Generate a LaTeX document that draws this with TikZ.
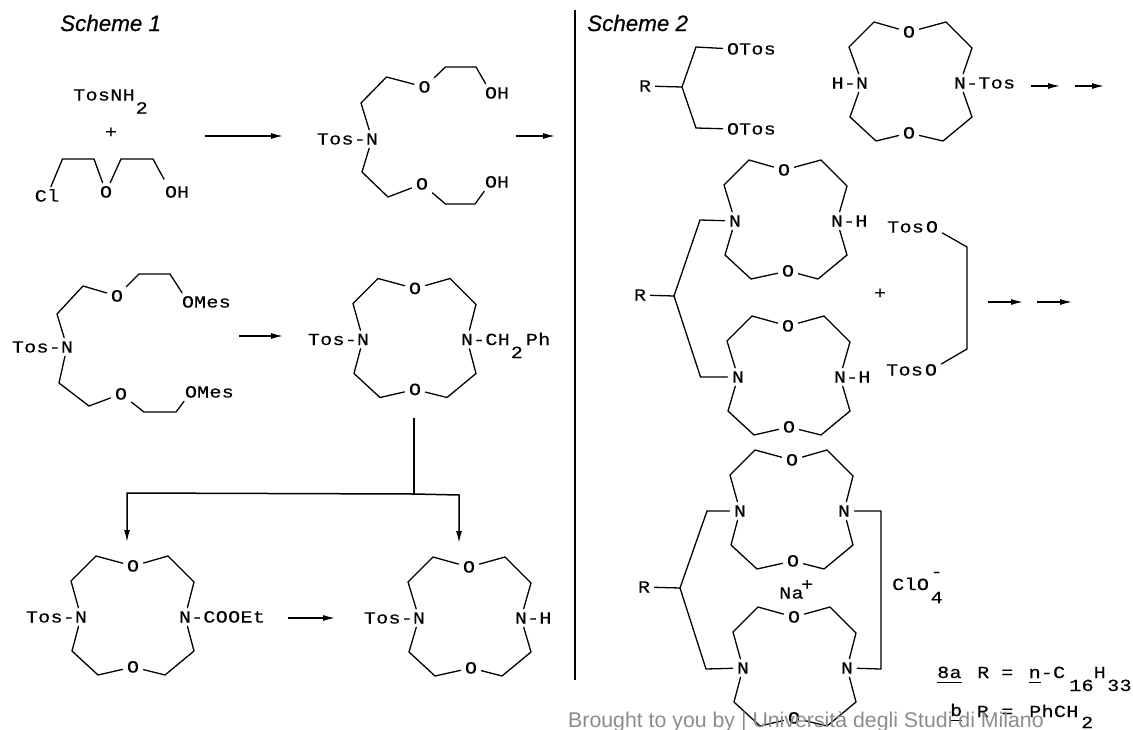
\documentclass[tikz,border=0pt]{standalone}
\usepackage{fontspec}
\usetikzlibrary{arrows.meta}
\setmainfont[LetterSpace=2,FakeStretch=1.18,FakeBold=0.35]{Liberation Mono}
\newfontfamily\sansfnt{Liberation Sans}
\newfontfamily\titlefnt[ItalicFeatures={FakeBold=0.6}]{Liberation Sans}
\tikzset{
  bond/.style={draw=black,line width=1.3pt,line join=miter,line cap=round},
  atom/.style={font=\fontsize{17}{20}\selectfont,text=black,inner xsep=4.2pt,inner ysep=3.6pt,text height=11pt,text depth=0pt},
  lbl/.style={font=\fontsize{17}{20}\selectfont,text=black,inner sep=0pt,anchor=base west},
  arr/.style={draw=black,line width=1.3pt,-{Latex[length=12pt,width=6pt]}},
  treeline/.style={draw=black,line width=1.5pt},
  sep/.style={draw=black,line width=2pt},
  schemetitle/.style={font=\titlefnt\itshape\fontsize{22.4}{26}\selectfont,text=black,inner sep=0pt,anchor=west},
  stamp/.style={font=\sansfnt\fontsize{21.3}{24}\selectfont,text=black!45,inner sep=0pt,anchor=base west}
}
% id, cx, cy, half width N-N, top O dx, bottom O dx, left atom, right atom
\newcommand{\crownring}[8]{%
  \begin{scope}[shift={(#2,#3)}]
    \node[atom] (#1L) at (-#4,0) {#7};
    \node[atom] (#1R) at (#4,0) {#8};
    \node[atom] (#1T) at (#5,-51) {O};
    \node[atom] (#1B) at (#6,50) {O};
    \draw[bond] (#1L) -- (-62,-36) -- (-37,-61) -- (#1T) -- (35,-61) -- (61,-35) -- (#1R);
    \draw[bond] (#1L) -- (-61,34) -- (-35,58) -- (#1B) -- (32,58) -- (61,34) -- (#1R);
  \end{scope}}
\newcommand{\lowtwo}{\hspace{1pt}\raisebox{-13pt}{2}}
\begin{document}
\begin{tikzpicture}[x=1pt,y=-1pt]
\useasboundingbox (0,0) rectangle (1133,729);
\node[schemetitle] (s1) at (60,23) {Scheme 1};
\node[schemetitle] (s2) at (587,23) {Scheme 2};
\coordinate (sepa) at (575,10); \coordinate (sepb) at (575,680);
\draw[sep] (sepa) -- (sepb);

% --- reagents
\node[lbl] (tosnh) at (73,100.5) {TosNH\lowtwo};
\node[atom] (plusa) at (111,132) {+};
\node[atom] (cla) at (47,196) {Cl};
\node[atom] (oa) at (106,192) {O};
\node[atom] (oha) at (171,192) {O\rlap{H}};
\draw[bond] (cla) -- (62.5,159) -- (94,159) -- (oa);
\draw[bond,shorten >=4pt] (oa) -- (121,159) -- (153,159) -- (oha);

% --- diol
\node[atom] (na) at (372,139) {\llap{Tos-}N};
\node[atom] (ob) at (424.5,87) {O};
\node[atom] (ohb) at (491,93) {O\rlap{H}};
\node[atom] (oc) at (422,184) {O};
\node[atom] (ohc) at (491,182) {O\rlap{H}};
\draw[bond] (na) -- (361,103) -- (386.5,77) -- (ob) -- (445.5,67) -- (476,67) -- (ohb);
\draw[bond] (na) -- (362,172) -- (388,197) -- (oc) -- (445.5,204) -- (475,204) -- (ohc);

% --- dimesylate
\node[atom] (nb) at (67,347) {\llap{Tos-}N};
\node[atom] (od) at (117,296) {O};
\node[atom] (ome) at (188,302) {O\rlap{Mes}};
\node[atom] (oe) at (121,394) {O};
\node[atom] (omf) at (191,392) {O\rlap{Mes}};
\draw[bond] (nb) -- (57,314) -- (83,286) -- (od) -- (139,274) -- (170,274) -- (ome);
\draw[bond] (nb) -- (59,383) -- (89,406) -- (oe) -- (144,412) -- (176,412) -- (omf);

% --- scheme 1 rings
\crownring{ra}{415}{339.5}{52}{0}{0}{\llap{Tos-}N}{N\rlap{-CH\lowtwo\hspace{3pt}Ph}}
\crownring{rb}{133}{617}{52}{0}{0}{\llap{Tos-}N}{N\rlap{-COOEt}}
\crownring{rc}{470}{618}{51}{-1}{1}{\llap{Tos-}N}{N\rlap{-H}}

% --- scheme 1 arrows
\coordinate (a1s) at (205,136); \coordinate (a1e) at (283,136);
\coordinate (a2s) at (516,136); \coordinate (a2e) at (555,136);
\coordinate (a3s) at (239,336); \coordinate (a3e) at (283,336);
\coordinate (a4s) at (288,618); \coordinate (a4e) at (335,618);
\draw[arr] (a1s) -- (a1e);
\draw[arr] (a2s) -- (a2e);
\draw[arr] (a3s) -- (a3e);
\draw[arr] (a4s) -- (a4e);
\coordinate (ta) at (414,418); \coordinate (tb) at (414,494);
\coordinate (tl) at (127,493); \coordinate (tr) at (459,495);
\coordinate (tle) at (127,542); \coordinate (tre) at (459,543);
\draw[treeline] (ta) -- (tb);
\draw[arr,treeline] (tb) -- (tl) -- (tle);
\draw[arr,treeline] (tb) -- (tr) -- (tre);

% --- scheme 2, top
\node[atom] (ra1) at (645,86) {R};
\coordinate (ca) at (682,87);
\node[atom] (ot1) at (733,49) {O\rlap{Tos}};
\node[atom] (ot2) at (733,129) {O\rlap{Tos}};
\draw[bond] (ra1) -- (ca);
\draw[bond] (ca) -- (696,47) -- (ot1);
\draw[bond] (ca) -- (696,128) -- (ot2);
\crownring{rd}{911}{83}{49}{-2}{-2}{\llap{H-}N}{N\rlap{-Tos}}
\coordinate (a5s) at (1031,86); \coordinate (a5e) at (1060,86);
\coordinate (a6s) at (1075,86); \coordinate (a6e) at (1104,86);
\draw[arr] (a5s) -- (a5e);
\draw[arr] (a6s) -- (a6e);

% --- scheme 2, middle
\crownring{re}{786}{221}{51}{-2}{2}{N}{N\rlap{-H}}
\crownring{rf}{789}{377}{51}{-1}{0}{N}{N\rlap{-H}}
\node[atom] (rb1) at (640,295) {R};
\coordinate (cb) at (674,296);
\draw[bond] (rb1) -- (cb);
\draw[bond] (cb) -- (700,220) -- (reL);
\draw[bond] (cb) -- (700.5,377) -- (rfL);
\node[atom] (plusb) at (880,293) {+};
\node[atom] (otu) at (932,227) {\llap{Tos\hspace{2pt}}O};
\node[atom] (otl) at (931,370) {\llap{Tos\hspace{2pt}}O};
\draw[bond] (otu) -- (967,247) -- (967,349) -- (otl);
\coordinate (a7s) at (988,302); \coordinate (a7e) at (1023,302);
\coordinate (a8s) at (1037,302); \coordinate (a8e) at (1072,302);
\draw[arr] (a7s) -- (a7e);
\draw[arr] (a8s) -- (a8e);

% --- scheme 2, bottom
\crownring{rg}{792}{511}{52}{0}{1}{N}{N}
\crownring{rh}{795}{668}{52}{-1}{-1}{N}{N}
\node[atom] (rc1) at (644,587) {R};
\coordinate (cc) at (680,588);
\draw[bond] (rc1) -- (cc);
\draw[bond] (cc) -- (707,511) -- (rgL);
\draw[bond] (cc) -- (706,669) -- (rhL);
\draw[bond] (rgR) -- (881,511) -- (881,669) -- (rhR);
\node[lbl] (na1) at (779,598.5) {Na};
\node[lbl] (na2) at (801,590) {+};
\node[lbl] (clo) at (892,590) {ClO};
\node[lbl] (clf) at (930.5,603) {4};
\node[lbl] (clm) at (930.5,577) {-};

\node[lbl] (l8a) at (937,678) {\underline{8a\rule[-3pt]{0pt}{3pt}}};
\node[lbl] (lr1) at (977,678) {R};
\node[lbl] (le1) at (1001,678) {=};
\node[lbl] (ln) at (1028.5,678) {\underline{n\rule[-3pt]{0pt}{3pt}}-C};
\node[lbl] (l16) at (1069,691) {16};
\node[lbl] (lh) at (1093.5,678) {H};
\node[lbl] (l33) at (1107,691) {33};
\node[lbl] (lb) at (950,716) {\underline{b\rule[-3pt]{0pt}{3pt}}};
\node[lbl] (lr2) at (976.5,717) {R};
\node[lbl] (le2) at (1001,717) {=};
\node[lbl] (lph) at (1029,717) {PhCH};
\node[lbl] (lt) at (1081,728) {2};
\node[stamp] (wm) at (568,727) {Brought to you by | Università degli Studi di Milano};
\end{tikzpicture}
\end{document}
